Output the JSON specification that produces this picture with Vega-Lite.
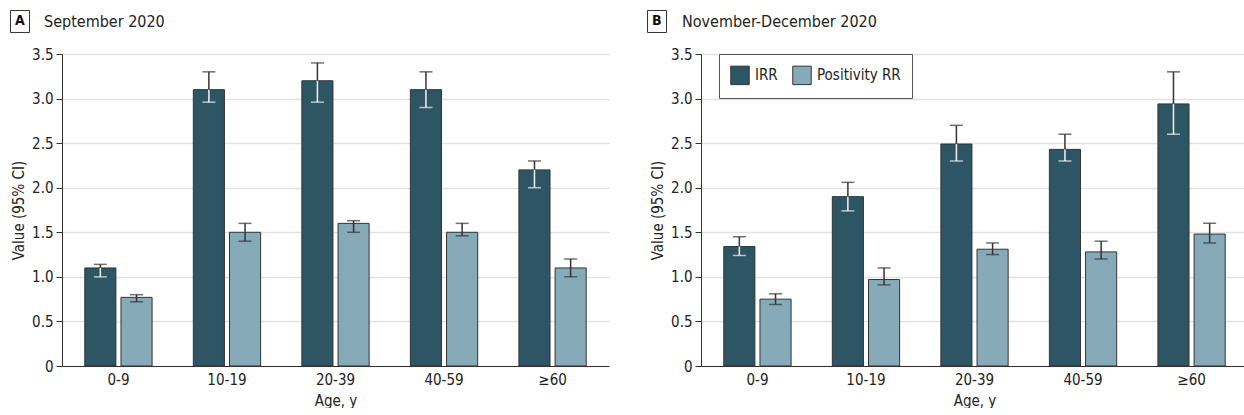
{
  "$schema": "https://vega.github.io/schema/vega-lite/v6.json",
  "padding": {"left": 9, "top": 9, "right": 0, "bottom": 0},
  "background": "white",
  "datasets": {
    "rr": [
      {"panel": "A", "age": "0-9", "measure": "IRR", "value": 1.1, "lo": 1.0, "hi": 1.14},
      {"panel": "A", "age": "0-9", "measure": "Positivity RR", "value": 0.77, "lo": 0.72, "hi": 0.8},
      {"panel": "A", "age": "10-19", "measure": "IRR", "value": 3.1, "lo": 2.96, "hi": 3.3},
      {"panel": "A", "age": "10-19", "measure": "Positivity RR", "value": 1.5, "lo": 1.4, "hi": 1.6},
      {"panel": "A", "age": "20-39", "measure": "IRR", "value": 3.2, "lo": 2.96, "hi": 3.4},
      {"panel": "A", "age": "20-39", "measure": "Positivity RR", "value": 1.6, "lo": 1.5, "hi": 1.63},
      {"panel": "A", "age": "40-59", "measure": "IRR", "value": 3.1, "lo": 2.9, "hi": 3.3},
      {"panel": "A", "age": "40-59", "measure": "Positivity RR", "value": 1.5, "lo": 1.46, "hi": 1.6},
      {"panel": "A", "age": "≥60", "measure": "IRR", "value": 2.2, "lo": 2.0, "hi": 2.3},
      {"panel": "A", "age": "≥60", "measure": "Positivity RR", "value": 1.1, "lo": 1.0, "hi": 1.2},
      {"panel": "B", "age": "0-9", "measure": "IRR", "value": 1.34, "lo": 1.24, "hi": 1.45},
      {"panel": "B", "age": "0-9", "measure": "Positivity RR", "value": 0.75, "lo": 0.69, "hi": 0.81},
      {"panel": "B", "age": "10-19", "measure": "IRR", "value": 1.9, "lo": 1.74, "hi": 2.06},
      {"panel": "B", "age": "10-19", "measure": "Positivity RR", "value": 0.97, "lo": 0.91, "hi": 1.1},
      {"panel": "B", "age": "20-39", "measure": "IRR", "value": 2.49, "lo": 2.3, "hi": 2.7},
      {"panel": "B", "age": "20-39", "measure": "Positivity RR", "value": 1.31, "lo": 1.25, "hi": 1.38},
      {"panel": "B", "age": "40-59", "measure": "IRR", "value": 2.43, "lo": 2.3, "hi": 2.6},
      {"panel": "B", "age": "40-59", "measure": "Positivity RR", "value": 1.28, "lo": 1.2, "hi": 1.4},
      {"panel": "B", "age": "≥60", "measure": "IRR", "value": 2.94, "lo": 2.6, "hi": 3.3},
      {"panel": "B", "age": "≥60", "measure": "Positivity RR", "value": 1.48, "lo": 1.38, "hi": 1.6}
    ]
  },
  "config": {
    "font": "DejaVu Sans Condensed, sans-serif",
    "view": {"stroke": null},
    "axis": {
      "labelFont": "DejaVu Sans Condensed, sans-serif",
      "titleFont": "DejaVu Sans Condensed, sans-serif",
      "labelFontSize": 15,
      "titleFontSize": 15,
      "titleFontWeight": "normal",
      "labelColor": "#222",
      "titleColor": "#222",
      "domainColor": "#333",
      "tickColor": "#333"
    },
    "legend": {"labelFont": "DejaVu Sans Condensed, sans-serif"},
    "title": {"font": "DejaVu Sans Condensed, sans-serif", "fontSize": 16, "fontWeight": "normal", "color": "#222"}
  },
  "hconcat": [
    {
      "width": 547,
      "height": 312,
      "title": {"text": "September 2020", "anchor": "start", "frame": "group", "dx": -18, "offset": -33, "baseline": "alphabetic"},
      "data": {"name": "rr"},
      "transform": [{"filter": "datum.panel === 'A'"}],
      "encoding": {
        "x": {"field": "age", "type": "nominal", "sort": ["0-9", "10-19", "20-39", "40-59", "≥60"],
          "scale": {"paddingInner": 0.38, "paddingOuter": 0.21},
          "axis": {"title": "Age, y", "labelAngle": 0, "ticks": false, "labelPadding": 6, "titlePadding": 6}},
        "xOffset": {"field": "measure", "type": "nominal", "scale": {"paddingInner": 0.14}}
      },
      "layer": [
        {
          "mark": {"type": "bar", "stroke": "#333", "strokeWidth": 1},
          "encoding": {
            "y": {"field": "value", "type": "quantitative", "scale": {"domain": [0, 3.5], "nice": false},
              "axis": {"title": "Value (95% CI)", "values": [0, 0.5, 1, 1.5, 2, 2.5, 3, 3.5], "labelExpr": "datum.value === 0 ? '0' : format(datum.value, '.1f')", "gridColor": "#e2e2e2", "gridWidth": 1.5, "tickSize": 6, "labelPadding": 3, "titlePadding": 5}},
            "fill": {"field": "measure", "type": "nominal", "scale": {"domain": ["IRR", "Positivity RR"], "range": ["#2e5564", "#86aab8"]}, "legend": null},
            "opacity": {"field": "panel", "type": "nominal", "scale": {"range": [1]},
              "legend": {"title": null, "orient": "none", "legendX": -52, "legendY": -44, "symbolType": "square", "symbolSize": 16,
                "symbolFillColor": "#fff", "symbolStrokeColor": "#fff", "symbolStrokeWidth": 0, "labelOffset": -13,
                "labelFontSize": 14, "labelFontWeight": "bold", "labelColor": "#111", "strokeColor": "#333", "fillColor": "#fff", "padding": 4}}
          }
        },
        {
          "mark": {"type": "rule", "strokeWidth": 1.5, "color": "#333"},
          "encoding": {"y": {"field": "value", "type": "quantitative"}, "y2": {"field": "hi"}}
        },
        {
          "mark": {"type": "rule", "strokeWidth": 1.5},
          "encoding": {"y": {"field": "lo", "type": "quantitative"}, "y2": {"field": "value"},
            "color": {"condition": {"test": "datum.measure === 'IRR'", "value": "#f4f4f4"}, "value": "#333"}}
        },
        {
          "mark": {"type": "tick", "orient": "horizontal", "size": 13, "thickness": 1.5, "color": "#333"},
          "encoding": {"y": {"field": "hi", "type": "quantitative"}}
        },
        {
          "mark": {"type": "tick", "orient": "horizontal", "size": 13, "thickness": 1.5},
          "encoding": {"y": {"field": "lo", "type": "quantitative"},
            "color": {"condition": {"test": "datum.measure === 'IRR'", "value": "#f4f4f4"}, "value": "#333"}}
        }
      ]
    },
    {
      "width": 547,
      "height": 312,
      "title": {"text": "November-December 2020", "anchor": "start", "frame": "group", "dx": -19, "offset": -33, "baseline": "alphabetic"},
      "data": {"name": "rr"},
      "transform": [{"filter": "datum.panel === 'B'"}],
      "encoding": {
        "x": {"field": "age", "type": "nominal", "sort": ["0-9", "10-19", "20-39", "40-59", "≥60"],
          "scale": {"paddingInner": 0.38, "paddingOuter": 0.21},
          "axis": {"title": "Age, y", "labelAngle": 0, "ticks": false, "labelPadding": 6, "titlePadding": 6}},
        "xOffset": {"field": "measure", "type": "nominal", "scale": {"paddingInner": 0.14}}
      },
      "layer": [
        {
          "mark": {"type": "bar", "stroke": "#333", "strokeWidth": 1},
          "encoding": {
            "y": {"field": "value", "type": "quantitative", "scale": {"domain": [0, 3.5], "nice": false},
              "axis": {"title": "Value (95% CI)", "values": [0, 0.5, 1, 1.5, 2, 2.5, 3, 3.5], "labelExpr": "datum.value === 0 ? '0' : format(datum.value, '.1f')", "gridColor": "#e2e2e2", "gridWidth": 1.5, "tickSize": 6, "labelPadding": 3, "titlePadding": 5}},
            "fill": {"field": "measure", "type": "nominal", "scale": {"domain": ["IRR", "Positivity RR"], "range": ["#2e5564", "#86aab8"]},
              "legend": {"title": null, "orient": "none", "legendX": 18, "legendY": 0, "direction": "horizontal",
                "symbolType": "square", "symbolSize": 340, "symbolStrokeColor": "#333", "symbolStrokeWidth": 1, "symbolOpacity": 1,
                "labelFontSize": 15, "labelColor": "#222", "labelOffset": 5, "columnPadding": 12,
                "strokeColor": "#555", "padding": 11, "fillColor": "white"}},
            "opacity": {"field": "panel", "type": "nominal", "scale": {"range": [1]},
              "legend": {"title": null, "orient": "none", "legendX": -54, "legendY": -44, "symbolType": "square", "symbolSize": 16,
                "symbolFillColor": "#fff", "symbolStrokeColor": "#fff", "symbolStrokeWidth": 0, "labelOffset": -13,
                "labelFontSize": 14, "labelFontWeight": "bold", "labelColor": "#111", "strokeColor": "#333", "fillColor": "#fff", "padding": 4}}
          }
        },
        {
          "mark": {"type": "rule", "strokeWidth": 1.5, "color": "#333"},
          "encoding": {"y": {"field": "value", "type": "quantitative"}, "y2": {"field": "hi"}}
        },
        {
          "mark": {"type": "rule", "strokeWidth": 1.5},
          "encoding": {"y": {"field": "lo", "type": "quantitative"}, "y2": {"field": "value"},
            "color": {"condition": {"test": "datum.measure === 'IRR'", "value": "#f4f4f4"}, "value": "#333"}}
        },
        {
          "mark": {"type": "tick", "orient": "horizontal", "size": 13, "thickness": 1.5, "color": "#333"},
          "encoding": {"y": {"field": "hi", "type": "quantitative"}}
        },
        {
          "mark": {"type": "tick", "orient": "horizontal", "size": 13, "thickness": 1.5},
          "encoding": {"y": {"field": "lo", "type": "quantitative"},
            "color": {"condition": {"test": "datum.measure === 'IRR'", "value": "#f4f4f4"}, "value": "#333"}}
        }
      ]
    }
  ],
  "spacing": 37,
  "resolve": {"scale": {"fill": "independent", "opacity": "independent"}, "legend": {"fill": "independent", "opacity": "independent"}}
}
